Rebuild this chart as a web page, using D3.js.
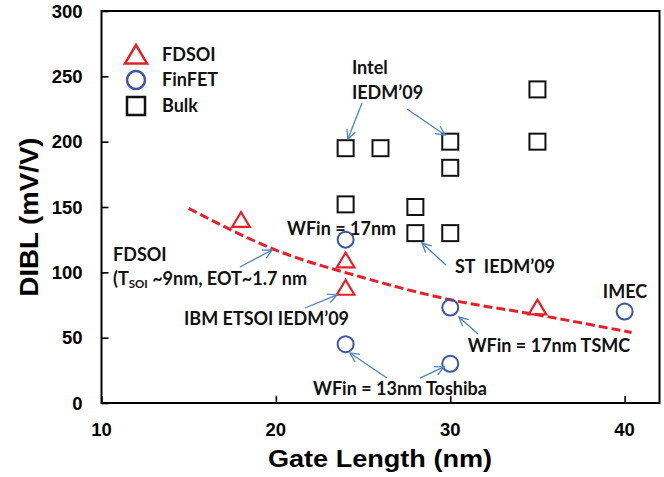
<!DOCTYPE html>
<html>
<head>
<meta charset="utf-8">
<script src="https://cdn.jsdelivr.net/npm/d3@7"></script>
<style>
  body { margin: 0; background: #fff; }
  text { font-family: "Liberation Sans", Arial, sans-serif; }
  .note { font-family: Lato, "Open Sans", sans-serif; font-weight: bold; font-size: 18px; fill: #111; white-space: pre; }
</style>
</head>
<body>
<div id="chart"></div>
<script>
// DIBL vs gate length - FDSOI / FinFET / Bulk

var fdsoiL = [18, 24, 24, 35];
var fdsoiDibl = [140, 109, 88, 73];

var finfetL = [24, 24, 30, 30, 40];
var finfetDibl = [125, 45, 73, 30, 70];

var bulkL = [24, 26, 30, 30, 35, 35, 24, 28, 28, 30];
var bulkDibl = [195, 195, 200, 180, 240, 200, 152, 150, 130, 130];

// red dashed guide line
var trendL = [15, 20, 25, 30, 35, 40.4];
var trendDibl = [149, 117, 96, 79, 67.5, 54];

var xTicks = [10, 20, 30, 40];
var yTicks = [0, 50, 100, 150, 200, 250, 300];

var seriesNames = ["FDSOI", "FinFET", "Bulk"];

// annotation labels, anchored in data units (left, baseline)
var notes = [
    {text: "Intel", x: 24.36, y: 251.8},
    {text: "IEDM\u201909", x: 24.36, y: 232.7},
    {text: "WFin = 17nm", x: 20.64, y: 128.6},
    {text: "ST\u00a0\u00a0IEDM\u201909", x: 30.27, y: 99.5},
    {text: "IMEC", x: 38.75, y: 80.4},
    {text: "WFin = 17nm TSMC", x: 31.0, y: 39.0},
    {text: "WFin = 13nm Toshiba", x: 22.13, y: 6.1},
    {text: "FDSOI", x: 10.66, y: 108.7},
    {text: "IBM ETSOI IEDM\u201909", x: 14.73, y: 59.7}
];

// arrows: from -> tip, in data units
var arrows = [
    [24.94, 229.6, 24.13, 202.0],
    [27.52, 225.0, 29.70, 205.1],
    [29.75, 105.6, 28.38, 122.4],
    [31.59, 52.8, 30.50, 65.8],
    [26.37, 19.1, 24.25, 38.3],
    [28.26, 19.1, 29.64, 27.6],
    [17.94, 104.1, 19.78, 117.1],
    [21.67, 72.7, 23.50, 82.7]
];

var W = 664, H = 477;
var margin = {top: 11, right: 4.5, bottom: 74, left: 101.5};

var svg = d3.select("#chart").append("svg")
    .attr("width", W)
    .attr("height", H);

var x = d3.scaleLinear().domain([10, 42]).range([margin.left, W - margin.right]);
var y = d3.scaleLinear().domain([0, 300]).range([H - margin.bottom + 0, margin.top]);

var red = "#e42129", blue = "#3c54a6", arrowBlue = "#4b82c3";

svg.append("defs").append("marker")
    .attr("id", "head")
    .attr("markerUnits", "userSpaceOnUse")
    .attr("viewBox", "-1 -6 12 12")
    .attr("refX", 9).attr("refY", 0)
    .attr("markerWidth", 12).attr("markerHeight", 12)
    .attr("orient", "auto")
    .append("path")
    .attr("d", "M0,-4.5 L9,0 L0,4.5")
    .attr("fill", "none")
    .attr("stroke", arrowBlue)
    .attr("stroke-width", 1.3);

// frame
svg.append("rect")
    .attr("x", x(10)).attr("y", y(300))
    .attr("width", x(42) - x(10))
    .attr("height", y(0) - y(300))
    .attr("fill", "none")
    .attr("stroke", "#000")
    .attr("stroke-width", 2);

// axes, ticks pointing inward
var xAxis = svg.append("g")
    .attr("transform", "translate(0," + y(0) + ")")
    .call(d3.axisTop(x).tickValues(xTicks).tickSize(7).tickFormat(""));
xAxis.select(".domain").remove();
xAxis.selectAll("line").attr("stroke-width", 1.6);

svg.selectAll(".xlab")
    .data(xTicks)
    .enter().append("text")
    .attr("class", "xlab")
    .attr("x", function(d) { return x(d); })
    .attr("y", 436)
    .attr("text-anchor", "middle")
    .attr("font-size", 18.5)
    .attr("font-weight", "bold")
    .text(function(d) { return d; });

var yAxis = svg.append("g")
    .attr("transform", "translate(" + x(10) + ",0)")
    .call(d3.axisRight(y).tickValues(yTicks).tickSize(7).tickFormat(""));
yAxis.select(".domain").remove();
yAxis.selectAll("line").attr("stroke-width", 1.6);

svg.selectAll(".ylab")
    .data(yTicks)
    .enter().append("text")
    .attr("class", "ylab")
    .attr("x", x(10) - 19)
    .attr("y", function(d) { return y(d); })
    .attr("dy", "0.36em")
    .attr("text-anchor", "end")
    .attr("font-size", 18.5)
    .attr("font-weight", "bold")
    .text(function(d) { return d; });

// axis titles
svg.append("text")
    .attr("x", 380).attr("y", 467)
    .attr("text-anchor", "middle")
    .attr("font-size", 24)
    .attr("font-weight", "bold")
    .attr("textLength", 224)
    .attr("lengthAdjust", "spacingAndGlyphs")
    .text("Gate Length (nm)");

svg.append("text")
    .attr("transform", "translate(38,217) rotate(-90)")
    .attr("text-anchor", "middle")
    .attr("font-size", 25)
    .attr("font-weight", "bold")
    .attr("textLength", 159)
    .attr("lengthAdjust", "spacingAndGlyphs")
    .text("DIBL (mV/V)");

// trend line
var line = d3.line()
    .x(function(d) { return x(d[0]); })
    .y(function(d) { return y(d[1]); })
    .curve(d3.curveMonotoneX);

svg.append("path")
    .datum(d3.zip(trendL, trendDibl))
    .attr("d", line)
    .attr("fill", "none")
    .attr("stroke", red)
    .attr("stroke-width", 3)
    .attr("stroke-dasharray", "9,4");

// marker shapes
function triPath(s) {
    return "M0," + (-s * 0.5) + " L" + (s * 0.55) + "," + (s * 0.42) + " L" + (-s * 0.55) + "," + (s * 0.42) + " Z";
}

svg.selectAll(".bulk")
    .data(d3.zip(bulkL, bulkDibl))
    .enter().append("rect")
    .attr("class", "bulk")
    .attr("x", function(d) { return x(d[0]) - 8; })
    .attr("y", function(d) { return y(d[1]) - 8; })
    .attr("width", 16).attr("height", 16)
    .attr("fill", "none")
    .attr("stroke", "#111")
    .attr("stroke-width", 2);

svg.selectAll(".finfet")
    .data(d3.zip(finfetL, finfetDibl))
    .enter().append("circle")
    .attr("class", "finfet")
    .attr("cx", function(d) { return x(d[0]); })
    .attr("cy", function(d) { return y(d[1]); })
    .attr("r", 8)
    .attr("fill", "none")
    .attr("stroke", blue)
    .attr("stroke-width", 2);

svg.selectAll(".fdsoi")
    .data(d3.zip(fdsoiL, fdsoiDibl))
    .enter().append("path")
    .attr("class", "fdsoi")
    .attr("transform", function(d) { return "translate(" + x(d[0]) + "," + y(d[1]) + ")"; })
    .attr("d", triPath(16))
    .attr("fill", "none")
    .attr("stroke", red)
    .attr("stroke-width", 2.2);

// arrows
svg.selectAll(".arrow")
    .data(arrows)
    .enter().append("line")
    .attr("class", "arrow")
    .attr("x1", function(d) { return x(d[0]); })
    .attr("y1", function(d) { return y(d[1]); })
    .attr("x2", function(d) { return x(d[2]); })
    .attr("y2", function(d) { return y(d[3]); })
    .attr("stroke", arrowBlue)
    .attr("stroke-width", 1.3)
    .attr("marker-end", "url(#head)");

// notes
svg.selectAll(".note")
    .data(notes)
    .enter().append("text")
    .attr("class", "note")
    .attr("x", function(d) { return x(d.x); })
    .attr("y", function(d) { return y(d.y); })
    .text(function(d) { return d.text; });

// note with subscript
var tsoi = svg.append("text")
    .attr("class", "note")
    .attr("x", x(10.66))
    .attr("y", y(90.3));
tsoi.append("tspan").text("(T");
tsoi.append("tspan").attr("font-size", 11.5).attr("dy", 3).text("SOI");
tsoi.append("tspan").attr("dy", -3).text(" ~9nm, EOT~1.7 nm");

// legend
var legend = svg.append("g").attr("transform", "translate(136,0)");
var legY = [55, 80, 106];

legend.append("path")
    .attr("transform", "translate(0," + legY[0] + ")")
    .attr("d", triPath(20))
    .attr("fill", "none")
    .attr("stroke", red)
    .attr("stroke-width", 2.5);
legend.append("circle")
    .attr("cx", 0).attr("cy", legY[1]).attr("r", 9)
    .attr("fill", "none")
    .attr("stroke", blue)
    .attr("stroke-width", 2.5);
legend.append("rect")
    .attr("x", -9).attr("y", legY[2] - 9)
    .attr("width", 18).attr("height", 18)
    .attr("fill", "none")
    .attr("stroke", "#111")
    .attr("stroke-width", 2.5);

legend.selectAll(".legtext")
    .data(seriesNames)
    .enter().append("text")
    .attr("class", "note legtext")
    .attr("x", 26)
    .attr("y", function(d, i) { return legY[i] + 6; })
    .text(function(d) { return d; });
</script>
</body>
</html>
